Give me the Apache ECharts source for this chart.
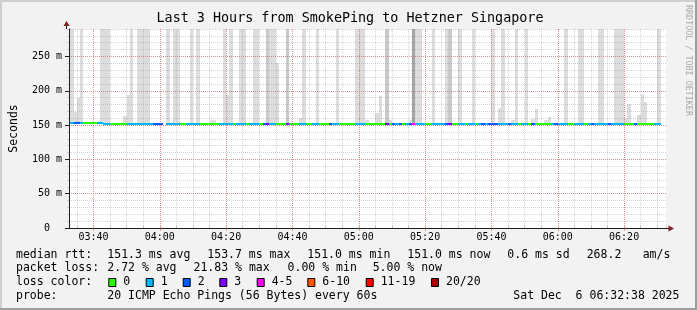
<!DOCTYPE html>
<html><head><meta charset="utf-8">
<script src="https://cdn.jsdelivr.net/npm/echarts@6/dist/echarts.min.js"></script>
<style>html,body{margin:0;padding:0;background:#f2f2f2}#c{width:697px;height:310px}</style>
</head><body><div id="c"></div>
<script>
// ---------------- data ----------------
const TITLE = 'Last 3 Hours from SmokePing to Hetzner Singapore';
const lossLabels = ['0', '1', '2', '3', '4-5', '6-10', '11-19', '20/20'];
const lossThresholds = [0, 1, 2, 3, 5, 10, 19, 20];
const lossColors = ['#26ff00', '#00b8ff', '#0059ff', '#7e00ff', '#ff00ff', '#ff5500', '#ff0000', '#a00000'];
const statsRtt = ['151.3 ms avg', '153.7 ms max', '151.0 ms min', '151.0 ms now', '0.6 ms sd', '268.2', 'am/s'];
const statsLoss = ['2.72 % avg', '21.83 % max', '0.00 % min', '5.00 % now'];
const probeText = '20 ICMP Echo Pings (56 Bytes) every 60s';
const dateText = 'Sat Dec  6 06:32:38 2025';

// one value per minute, starting 03:33
const median = [
 153.7,153.6,153.6,153.5,153.6,153.5,153.6,153.5,153.6,153.5,
 151.2,151.1,151.2,151.1,151.1,151.2,151.1,151.2,151.1,151.2,
 151.1,151.2,151.1,151.1,151.2,151.1,151.2,151.1,null,151.2,
 151.1,151.2,151.1,151.1,151.2,151.1,151.0,151.1,151.2,151.1,
 151.1,151.2,151.1,151.1,151.2,151.1,151.2,151.1,151.1,151.2,
 151.1,151.2,151.1,151.1,151.0,151.1,151.2,151.1,151.1,151.2,
 151.1,151.2,151.1,151.1,151.2,151.1,151.2,151.1,151.0,151.1,
 151.2,151.1,151.1,151.2,151.1,151.2,151.1,151.1,151.2,151.1,
 151.1,151.2,151.1,151.1,151.2,151.1,151.2,151.1,151.0,151.1,
 151.2,151.1,151.1,151.2,151.1,151.2,151.1,151.1,151.2,151.1,
 151.1,151.2,151.1,151.1,151.2,151.1,151.2,151.1,151.0,151.1,
 151.2,151.1,151.1,151.2,151.1,151.2,151.1,151.1,151.2,151.1,
 151.1,151.2,151.1,151.1,151.2,151.1,151.2,151.1,151.0,151.1,
 151.2,151.1,151.1,151.2,151.1,151.2,151.1,151.1,151.2,151.1,
 151.1,151.2,151.1,151.1,151.2,151.1,151.2,151.1,151.0,151.1,
 151.2,151.1,151.1,151.2,151.1,151.2,151.1,151.1,151.2,151.1,
 151.1,151.2,151.1,151.1,151.2,151.1,151.2,151.1,151.0,151.1,
 151.2,151.1,151.1,151.2,151.1,151.1,151.0,151.0,null,null
];
const lostPings = [
 1,2,2,1,0,0,0,0,1,1,
 1,1,0,0,0,0,0,1,1,1,
 1,1,1,1,1,2,2,2,null,1,
 1,1,1,0,0,1,1,1,1,0,
 0,0,0,0,0,1,1,1,1,0,
 1,1,1,0,1,1,1,0,2,3,
 1,1,0,0,0,3,0,0,0,1,
 1,0,0,1,1,0,0,0,2,1,
 1,0,0,0,0,0,1,1,1,0,
 0,0,0,0,0,3,0,2,1,2,
 0,1,2,4.4,1,1,1,0,0,1,
 1,1,1,2,3,0,0,1,1,0,
 1,1,0,1,2,1,2,2,2,1,
 1,1,2,1,1,0,1,1,0,2,
 0,0,0,0,0,1,2,1,1,1,
 0,0,1,1,1,0,1,2,1,1,
 1,1,2,1,1,1,1,0,0,0,
 2,0,0,0,0,0,1,1,null,null
];
// highest ping (ms) where it stays on the graph
const maxPing = [
 null,169,190,null,null,null,null,null,null,null,
 null,null,null,null,null,null,163,194,null,null,
 null,null,null,null,null,null,null,null,null,null,
 null,null,null,null,null,null,null,null,null,null,
 null,null,157,157,null,null,null,194,null,null,
 null,null,null,null,null,null,null,null,null,null,
 null,null,240,null,null,null,null,null,null,160,
 null,null,null,null,null,null,null,null,null,null,
 null,null,null,null,null,null,null,null,null,157,
 null,null,167,193,null,null,157,null,null,null,
 null,null,157,null,null,null,null,null,null,null,
 null,null,null,null,null,null,null,null,null,null,
 null,null,null,null,null,null,null,null,null,175,
 null,null,null,158,null,null,null,null,null,159,
 173,null,null,157,162,null,null,null,null,null,
 null,null,null,null,null,null,null,null,null,null,
 null,null,null,null,null,null,null,160,181,null,
 null,164,195,184,null,null,null,null,null,null
];
// number of pings beyond the top of the graph (lost or too slow)
const offTop = [
 1,0,0,1,0,0,0,0,0,1,
 1,1,0,0,0,0,0,0,1,0,
 1,1,1,1,0,0,0,0,0,1,
 0,1,1,0,0,0,1,0,1,0,
 0,0,0,0,0,0,1,0,1,0,
 0,1,1,0,0,1,1,0,0,2,
 1,1,0,0,0,2,0,0,0,0,
 1,0,0,0,1,0,0,0,0,0,
 1,0,0,0,0,0,1,1,1,0,
 0,0,0,0,0,2,0,0,0,0,
 0,0,0,4,1,1,0,0,0,1,
 0,0,0,1,2,0,0,1,0,0,
 0,1,0,0,0,0,0,1,0,0,
 1,0,0,0,1,0,0,1,0,0,
 0,0,0,0,0,0,0,0,0,1,
 0,0,0,1,1,0,0,0,0,1,
 1,0,0,0,1,1,1,0,0,0,
 0,0,0,0,0,0,0,1,0,0
];

// ---------------- chart ----------------
const FONT = '"DejaVu Sans Mono", monospace';
const Y_MAX = 290;
const GRID = {left: 66, top: 29, width: 600, height: 199};
const T = (h, m, s) => new Date(2025, 11, 6, h, m, s).getTime();
const X_MIN = T(3, 32, 38), X_MAX = T(6, 32, 38);
const MINOR = 'rgba(143,143,143,0.38)';
const MAJOR = 'rgba(222,79,79,0.5)';

function lossColor(v) {
  for (let i = 0; i < lossThresholds.length; i++) if (v <= lossThresholds[i]) return lossColors[i];
  return lossColors[lossColors.length - 1];
}
function smokeColor(band) {
  const c = Math.floor(190 / 10 * (10 - band)) + 50;
  const h = c.toString(16).padStart(2, '0');
  return '#' + h + h + h;
}

const items = [];
for (let k = 0; k < median.length; k++) {
  if (median[k] == null) continue;
  items.push([T(3, 33 + k, 0), T(3, 34 + k, 0), median[k], lostPings[k] || 0,
              maxPing[k] == null ? median[k] : maxPing[k], offTop[k] || 0]);
}

function renderItem(params, api) {
  const t0 = api.value(0), t1 = api.value(1), med = api.value(2);
  const ls = api.value(3), mx = api.value(4), off = api.value(5);
  const xa = Math.round(api.coord([t0, 0])[0]), xb = Math.round(api.coord([t1, 0])[0]);
  const children = [];
  const top = off > 0 ? Y_MAX : mx;
  if (top > med) {
    const ya = Math.round(api.coord([t0, top])[1]), yb = Math.round(api.coord([t0, med])[1]);
    children.push({type: 'rect', shape: {x: xa, y: ya, width: xb - xa, height: yb - ya},
                   style: {fill: smokeColor(off > 0 ? off : 1)}});
  }
  const sw = Y_MAX / GRID.height;
  const yl = Math.round(api.coord([t0, med + sw])[1]), yh = Math.round(api.coord([t0, med - sw])[1]);
  children.push({type: 'rect', shape: {x: xa, y: yl, width: xb - xa, height: yh - yl},
                 style: {fill: lossColor(ls)}});
  return {type: 'group', children};
}

function hhmm(v) {
  const d = new Date(v);
  if (d.getSeconds() !== 0 || d.getMinutes() % 20 !== 0) return '';
  return String(d.getHours()).padStart(2, '0') + ':' + String(d.getMinutes()).padStart(2, '0');
}

// legend graphics
const txt = (text, x, y, size, align) => ({type: 'text', x, y, z: 10,
  style: {text, fontFamily: FONT, fontSize: size, fill: '#000', verticalAlign: 'middle', align: align || 'left'}});
const LX = 16, VX = 107.3;
const rows = [254.7, 268.4, 282.3, 296];
const rttX = [107.3, 207.3, 307.3, 407.3, 507.3, 586.7, 642.7];
const lossX = [107.3, 193.5, 287.6, 372.7];
const boxX = [108.3, 145.7, 182.7, 219.3, 256.7, 307.3, 365.7, 431];
const g = [];
g.push({type: 'rect', shape: {x: 0, y: 0, width: 697, height: 2}, style: {fill: '#cfcfcf'}});
g.push({type: 'rect', shape: {x: 0, y: 0, width: 2, height: 310}, style: {fill: '#cfcfcf'}});
g.push({type: 'rect', shape: {x: 0, y: 308, width: 697, height: 2}, style: {fill: '#9e9e9e'}});
g.push({type: 'rect', shape: {x: 695, y: 0, width: 2, height: 310}, style: {fill: '#9e9e9e'}});
g.push(txt(TITLE, 350, 19, 13.4, 'center'));
g.push({type: 'text', x: 688, y: 5, rotation: -Math.PI / 2, z: 10,
  style: {text: 'RRDTOOL / TOBI OETIKER', fontFamily: FONT, fontSize: 8.4, fill: '#a8a8a8', verticalAlign: 'middle', align: 'left'}});
g.push(txt('median rtt:', LX, rows[0], 11.5));
statsRtt.forEach((s, i) => g.push(txt(s, rttX[i], rows[0], 11.5)));
g.push(txt('packet loss:', LX, rows[1], 11.5));
statsLoss.forEach((s, i) => g.push(txt(s, lossX[i], rows[1], 11.5)));
g.push(txt('loss color:', LX, rows[2], 11.5));
lossLabels.forEach((s, i) => {
  g.push({type: 'rect', z: 10, shape: {x: boxX[i] + 0.5, y: 278.5, width: 7, height: 8},
          style: {fill: lossColors[i], stroke: '#000', lineWidth: 1}});
  g.push(txt(s, boxX[i] + 15, rows[2], 11.5));
});
g.push(txt('probe:', LX, rows[3], 11.5));
g.push(txt(probeText, VX, rows[3], 11.5));
g.push(txt(dateText, 513.3, rows[3], 11.5));
// axis extensions and arrows
g.push({type: 'line', z: 10, shape: {x1: 66.5, y1: 29, x2: 66.5, y2: 25}, style: {stroke: '#1f1f1f', lineWidth: 1}});
g.push({type: 'polygon', z: 11, shape: {points: [[66.5, 21], [63.5, 26], [69.5, 26]]}, style: {fill: '#801f1f'}});
g.push({type: 'line', z: 10, shape: {x1: 666, y1: 228.5, x2: 669, y2: 228.5}, style: {stroke: '#1f1f1f', lineWidth: 1}});
g.push({type: 'polygon', z: 11, shape: {points: [[674, 228.5], [668.5, 225.5], [668.5, 231.5]]}, style: {fill: '#801f1f'}});

const chart = echarts.init(document.getElementById('c'), null, {renderer: 'canvas'});
chart.setOption({
  animation: false,
  backgroundColor: '#f2f2f2',
  grid: Object.assign({show: true, backgroundColor: '#ffffff', borderWidth: 0, z: 0}, GRID),
  xAxis: [{
    type: 'time', min: X_MIN, max: X_MAX, minInterval: 21 * 60000, maxInterval: 21 * 60000, z: 4,
    axisLine: {show: true, lineStyle: {color: '#1f1f1f', width: 1}},
    axisTick: {show: true, length: 3, lineStyle: {color: MAJOR}},
    axisLabel: {formatter: hhmm, fontFamily: FONT, fontSize: 10, color: '#000', margin: 4,
                showMinLabel: false, showMaxLabel: false, hideOverlap: false},
    splitLine: {show: true, showMinLine: false, showMaxLine: false, lineStyle: {color: MAJOR, type: [1, 1], width: 1}}
  }, {
    type: 'time', min: X_MIN, max: X_MAX, minInterval: 5.5 * 60000, maxInterval: 5.5 * 60000, z: 3,
    axisLine: {show: false}, axisLabel: {show: false},
    axisTick: {show: true, length: 3, lineStyle: {color: MINOR}},
    splitLine: {show: true, showMinLine: false, showMaxLine: false, lineStyle: {color: MINOR, type: [1, 1], width: 1}}
  }],
  yAxis: [{
    type: 'value', min: 0, max: Y_MAX, interval: 50, position: 'left', z: 4,
    name: 'Seconds', nameLocation: 'middle', nameGap: 49, nameRotate: 90,
    nameTextStyle: {fontFamily: FONT, fontSize: 11.5, color: '#000'},
    axisLine: {show: true, lineStyle: {color: '#1f1f1f', width: 1}},
    axisTick: {show: true, length: 4, lineStyle: {color: '#1f1f1f'}},
    axisLabel: {formatter: v => v === 0 ? '0\u00a0\u00a0' : v + ' m', fontFamily: FONT, fontSize: 10,
                color: '#000', margin: 7, showMaxLabel: false},
    splitLine: {show: true, showMinLine: false, showMaxLine: false, lineStyle: {color: MAJOR, type: [1, 1], width: 1}}
  }, {
    type: 'value', min: 0, max: Y_MAX, interval: 10, position: 'left', z: 3,
    axisLine: {show: false}, axisLabel: {show: false},
    axisTick: {show: true, length: 2, lineStyle: {color: MINOR}},
    splitLine: {show: true, showMinLine: false, lineStyle: {color: MINOR, type: [1, 1], width: 1}}
  }],
  series: [{
    type: 'custom', xAxisIndex: 0, yAxisIndex: 0, z: 2, clip: true,
    renderItem, data: items, encode: {x: [0, 1], y: 2}
  }],
  graphic: g
});
</script></body></html>
